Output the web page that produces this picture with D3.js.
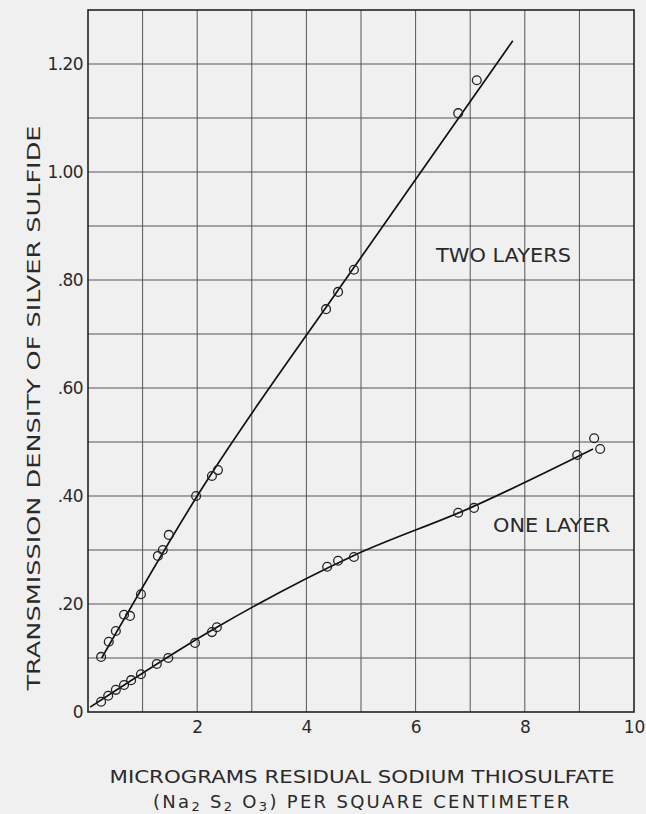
<!DOCTYPE html>
<html>
<head>
<meta charset="utf-8">
<script src="https://cdn.jsdelivr.net/npm/d3@7"></script>
<style>
  html, body { margin: 0; padding: 0; background: #f0f0f0; }
  svg { display: block; }
  text { font-family: "DejaVu Sans", sans-serif; fill: #2a2a2a; }
</style>
</head>
<body>
<script>
// ---- data ----
const twoLayerX = [0.24, 0.38, 0.51, 0.66, 0.77, 0.97, 1.28, 1.37, 1.48, 1.98, 2.27, 2.38, 4.36, 4.58, 4.87, 6.78, 7.12];
const twoLayerY = [0.102, 0.130, 0.150, 0.180, 0.178, 0.218, 0.289, 0.300, 0.328, 0.400, 0.437, 0.448, 0.746, 0.778, 0.819, 1.109, 1.170];
const oneLayerX = [0.24, 0.37, 0.51, 0.66, 0.79, 0.97, 1.26, 1.47, 1.96, 2.27, 2.36, 4.38, 4.58, 4.87, 6.78, 7.07, 8.96, 9.27, 9.38];
const oneLayerY = [0.019, 0.030, 0.041, 0.050, 0.059, 0.070, 0.089, 0.100, 0.128, 0.148, 0.157, 0.269, 0.280, 0.287, 0.369, 0.378, 0.476, 0.507, 0.487];
// fitted (hand-drawn) curves
const twoLineX = [0.25, 2.0, 4.71, 7.78];
const twoLineY = [0.100, 0.400, 0.800, 1.243];
const oneLineX = [0.04, 2.36, 4.87, 7.0, 9.25];
const oneLineY = [0.009, 0.157, 0.290, 0.378, 0.487];
const xTicks = [2, 4, 6, 8, 10];
const xTickLabels = ["2", "4", "6", "8", "10"];
const yTicks = [0, 0.2, 0.4, 0.6, 0.8, 1.0, 1.2];
const yTickLabels = ["0", ".20", ".40", ".60", ".80", "1.00", "1.20"];
const xGrid = [1, 2, 3, 4, 5, 6, 7, 8, 9];
const yGrid = [0.1, 0.2, 0.3, 0.4, 0.5, 0.6, 0.7, 0.8, 0.9, 1.0, 1.1, 1.2];

const W = 646, H = 814;
const svg = d3.select("body").append("svg").attr("width", W).attr("height", H);
svg.append("rect").attr("width", W).attr("height", H).attr("fill", "#f0f0f0");

const x = d3.scaleLinear().domain([0, 10]).range([88, 634]);
const y = d3.scaleLinear().domain([0, 1.3]).range([712, 10]);

// grid
svg.append("g").selectAll("line").data(xGrid).join("line")
  .attr("x1", d => x(d)).attr("x2", d => x(d))
  .attr("y1", y(0)).attr("y2", y(1.3))
  .attr("stroke", "#555").attr("stroke-width", 1);
svg.append("g").selectAll("line").data(yGrid).join("line")
  .attr("x1", x(0)).attr("x2", x(10))
  .attr("y1", d => y(d)).attr("y2", d => y(d))
  .attr("stroke", "#555").attr("stroke-width", 1);

// frame
svg.append("rect").attr("x", x(0)).attr("y", y(1.3))
  .attr("width", x(10) - x(0)).attr("height", y(0) - y(1.3))
  .attr("fill", "none").attr("stroke", "#222").attr("stroke-width", 1.6);

// axes
const xAxis = d3.axisBottom(x).tickValues(xTicks)
  .tickFormat((d, i) => xTickLabels[i]).tickSize(0).tickPadding(9);
const gx = svg.append("g").attr("transform", `translate(0,${y(0)})`).call(xAxis);
gx.select(".domain").remove();
gx.selectAll("text").style("font-size", "17px").attr("fill", "#2a2a2a")
  .style("font-family", "DejaVu Sans, sans-serif");

const yAxis = d3.axisLeft(y).tickValues(yTicks)
  .tickFormat((d, i) => yTickLabels[i]).tickSize(0).tickPadding(5);
const gy = svg.append("g").attr("transform", `translate(${x(0)},0)`).call(yAxis);
gy.select(".domain").remove();
gy.selectAll("text").style("font-size", "17px").attr("fill", "#2a2a2a")
  .style("letter-spacing", "-0.6px")
  .style("font-family", "DejaVu Sans, sans-serif");

// curves
const line = d3.line().x(d => x(d[0])).y(d => y(d[1])).curve(d3.curveMonotoneX);
svg.append("path").datum(twoLineX.map((v, i) => [v, twoLineY[i]]))
  .attr("d", line).attr("fill", "none").attr("stroke", "#111").attr("stroke-width", 1.7);
svg.append("path").datum(oneLineX.map((v, i) => [v, oneLineY[i]]))
  .attr("d", line).attr("fill", "none").attr("stroke", "#111").attr("stroke-width", 1.7);

// points
function pts(xs, ys) {
  svg.append("g").selectAll("circle").data(xs.map((v, i) => [v, ys[i]])).join("circle")
    .attr("cx", d => x(d[0])).attr("cy", d => y(d[1])).attr("r", 4.4)
    .attr("fill", "none").attr("stroke", "#222").attr("stroke-width", 1.3);
}
pts(twoLayerX, twoLayerY);
pts(oneLayerX, oneLayerY);

// series labels
svg.append("text").attr("x", 436).attr("y", 262).attr("textLength", 135)
  .attr("lengthAdjust", "spacingAndGlyphs").style("font-size", "19px").text("TWO LAYERS");
svg.append("text").attr("x", 493).attr("y", 532).attr("textLength", 117)
  .attr("lengthAdjust", "spacingAndGlyphs").style("font-size", "19px").text("ONE LAYER");

// axis titles
svg.append("text").attr("transform", "translate(40,408) rotate(-90)")
  .attr("text-anchor", "middle").attr("textLength", 565).attr("lengthAdjust", "spacingAndGlyphs")
  .style("font-size", "18px").text("TRANSMISSION DENSITY OF SILVER SULFIDE");

svg.append("text").attr("x", 362).attr("y", 783).attr("text-anchor", "middle")
  .attr("textLength", 505).attr("lengthAdjust", "spacingAndGlyphs")
  .style("font-size", "18px").text("MICROGRAMS RESIDUAL SODIUM THIOSULFATE");

const t2 = svg.append("text").attr("x", 153).attr("y", 808)
  .style("font-size", "18px").style("letter-spacing", "2.3px");
t2.append("tspan").text("(Na");
t2.append("tspan").attr("dy", 3).style("font-size", "13px").text("2");
t2.append("tspan").attr("dy", -3).text(" S");
t2.append("tspan").attr("dy", 3).style("font-size", "13px").text("2");
t2.append("tspan").attr("dy", -3).text(" O");
t2.append("tspan").attr("dy", 3).style("font-size", "13px").text("3");
t2.append("tspan").attr("dy", -3).text(") PER SQUARE CENTIMETER");
</script>
</body>
</html>
